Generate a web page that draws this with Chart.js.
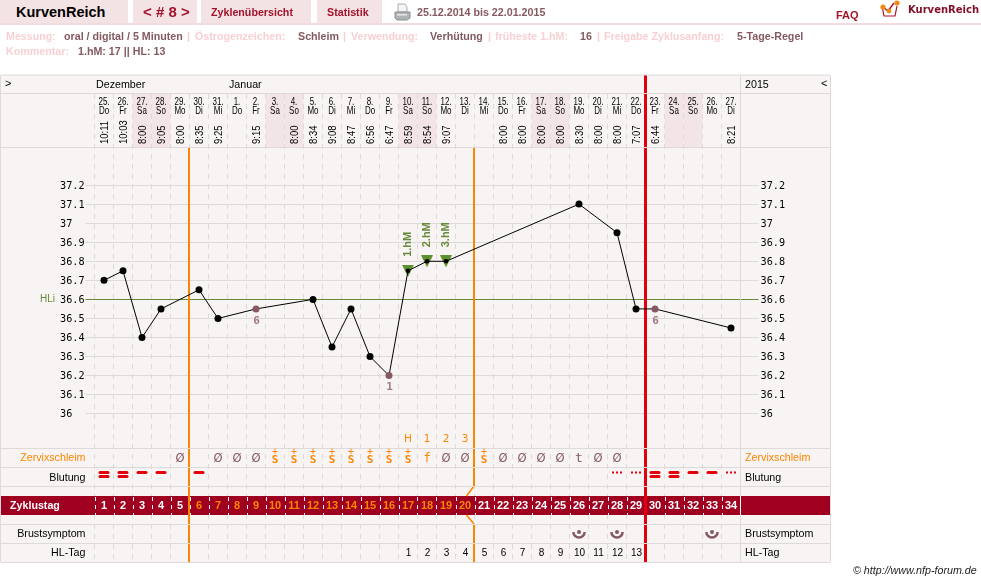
<!DOCTYPE html>
<html lang="de">
<head>
<meta charset="utf-8">
<title>KurvenReich</title>
<script src="https://cdn.jsdelivr.net/npm/chart.js@4"></script>
<style>
    html, body { margin: 0; padding: 0; background: #fff; }
    body { width: 981px; height: 582px; position: relative; overflow: hidden; font: 10.7px "Liberation Sans", Arial, sans-serif; }
    canvas { position: absolute; left: 0; top: 0; }
    .tab { position: absolute; top: 0; height: 23px; background: #f3e3e5; }
    .rule { position: absolute; left: 0; top: 23px; width: 981px; height: 2px; background: #f3dcdf; }
    .t { position: absolute; white-space: nowrap; font-weight: bold; line-height: 14px; }
    .nav { color: #a3132a; }
    .lab { color: #f8d0d4; }
    .val { color: #845a60; }
</style>
</head>
<body>
<canvas id="curve" width="981" height="582"></canvas>

<div class="tab" style="left:0;width:128px"></div>
<div class="tab" style="left:133px;width:64px"></div>
<div class="tab" style="left:201px;width:110px"></div>
<div class="tab" style="left:317px;width:65px"></div>
<div class="rule"></div>

<span class="t" style="left:16px;top:5px;font-size:14.5px;color:#000">KurvenReich</span>
<span class="t nav" style="left:143px;top:5px;font-size:15px">&lt; # 8 &gt;</span>
<span class="t nav" style="left:211px;top:5px">Zyklenübersicht</span>
<span class="t nav" style="left:327px;top:5px">Statistik</span>
<svg style="position:absolute;left:394px;top:3px" width="17" height="18" viewBox="0 0 17 18">
    <path d="M4 1h7l2 3v5H4z" fill="#f4f4f4" stroke="#a9adb0"/>
    <path d="M1 9h15v6l-3 2H3l-2-2z" fill="#aeb3b6" stroke="#8b9093"/>
    <rect x="3" y="11" width="10" height="1.5" fill="#e6e8e9"/>
</svg>
<span class="t val" style="left:417px;top:5px">25.12.2014 bis 22.01.2015</span>
<span class="t nav" style="left:836px;top:8px;font-size:11px">FAQ</span>
<svg style="position:absolute;left:880px;top:0" width="22" height="19" viewBox="0 0 22 19">
    <path d="M2 6l2 10h11l2-10" fill="#fff" stroke="#a3132a" stroke-width="1.2"/>
    <path d="M3 7l5 4 6-8" fill="none" stroke="#a3132a" stroke-width="1.4"/>
    <circle cx="3" cy="7" r="2.6" fill="#f08a16"/>
    <circle cx="9" cy="11" r="2.4" fill="#f08a16"/>
    <circle cx="17" cy="3" r="2.6" fill="#f08a16"/>
</svg>
<span class="t" style="left:908px;top:3px;font:bold 10px 'DejaVu Sans';line-height:14px;color:#84102a">KurvenReich</span>

<span class="t lab" style="left:6px;top:29px">Messung:</span>
<span class="t val" style="left:64px;top:29px">oral / digital / 5 Minuten</span>
<span class="t lab" style="left:187px;top:29px">|</span>
<span class="t lab" style="left:195px;top:29px">Östrogenzeichen:</span>
<span class="t val" style="left:298px;top:29px">Schleim</span>
<span class="t lab" style="left:343px;top:29px">|</span>
<span class="t lab" style="left:351px;top:29px">Verwendung:</span>
<span class="t val" style="left:430px;top:29px">Verhütung</span>
<span class="t lab" style="left:488px;top:29px">|</span>
<span class="t lab" style="left:495px;top:29px">früheste 1.hM:</span>
<span class="t val" style="left:580px;top:29px">16</span>
<span class="t lab" style="left:597px;top:29px">|</span>
<span class="t lab" style="left:604px;top:29px">Freigabe Zyklusanfang:</span>
<span class="t val" style="left:737px;top:29px">5-Tage-Regel</span>
<span class="t lab" style="left:6px;top:44px">Kommentar:</span>
<span class="t val" style="left:78px;top:44px">1.hM: 17 || HL: 13</span>

<span class="t" style="left:853px;top:563px;font-weight:normal;font-style:italic;color:#222">© http://www.nfp-forum.de</span>

<script>
'use strict'

const cycleDays = [1, 2, 3, 4, 5, 6, 7, 8, 9, 10, 11, 12, 13, 14, 15, 16, 17, 18, 19, 20, 21, 22, 23, 24, 25, 26, 27, 28, 29, 30, 31, 32, 33, 34]
const dates = ['25.', '26.', '27.', '28.', '29.', '30.', '31.', '1.', '2.', '3.', '4.', '5.', '6.', '7.', '8.', '9.', '10.', '11.', '12.', '13.', '14.', '15.', '16.', '17.', '18.', '19.', '20.', '21.', '22.', '23.', '24.', '25.', '26.', '27.']
const weekdays = ['Do', 'Fr', 'Sa', 'So', 'Mo', 'Di', 'Mi', 'Do', 'Fr', 'Sa', 'So', 'Mo', 'Di', 'Mi', 'Do', 'Fr', 'Sa', 'So', 'Mo', 'Di', 'Mi', 'Do', 'Fr', 'Sa', 'So', 'Mo', 'Di', 'Mi', 'Do', 'Fr', 'Sa', 'So', 'Mo', 'Di']
const times = ['10:11', '10:03', '8:00', '9:05', '8:00', '8:35', '9:25', '', '9:15', '', '8:00', '8:34', '9:08', '8:47', '6:56', '6:47', '8:59', '8:54', '9:07', '', '', '8:00', '8:00', '8:00', '8:00', '8:30', '8:00', '8:00', '7:07', '6:44', '', '', '', '8:21']
const temperatures = [36.7, 36.75, 36.4, 36.55, null, 36.65, 36.5, null, 36.55, null, null, 36.6, 36.35, 36.55, 36.3, 36.2, 36.75, 36.8, 36.8, null, null, null, null, null, null, 37.1, null, 36.95, 36.55, 36.55, null, null, null, 36.45]
// counted-over temperatures get a brown dot and their number underneath
const tempNotes = ['', '', '', '', '', '', '', '', '6', '', '', '', '', '', '', '1', '', '', '', '', '', '', '', '', '', '', '', '', '', '6', '', '', '', '']
const peakMarks = ['', '', '', '', '', '', '', '', '', '', '', '', '', '', '', '', '1.hM', '2.hM', '3.hM', '', '', '', '', '', '', '', '', '', '', '', '', '', '', '']
const peakCounts = ['', '', '', '', '', '', '', '', '', '', '', '', '', '', '', '', 'H', '1', '2', '3', '', '', '', '', '', '', '', '', '', '', '', '', '', '']
const mucus = ['', '', '', '', 'Ø', '', 'Ø', 'Ø', 'Ø', 'S+', 'S+', 'S+', 'S+', 'S+', 'S+', 'S+', 'S+', 'f', 'Ø', 'Ø', 'S+', 'Ø', 'Ø', 'Ø', 'Ø', 't', 'Ø', 'Ø', '', '', '', '', '', '']
const bleeding = [2, 2, 1, 1, 0, 1, 0, 0, 0, 0, 0, 0, 0, 0, 0, 0, 0, 0, 0, 0, 0, 0, 0, 0, 0, 0, 0, 3, 3, 2, 2, 1, 1, 3]
const breast = [0, 0, 0, 0, 0, 0, 0, 0, 0, 0, 0, 0, 0, 0, 0, 0, 0, 0, 0, 0, 0, 0, 0, 0, 0, 1, 0, 1, 0, 0, 0, 0, 1, 0]
const hlDays = ['', '', '', '', '', '', '', '', '', '', '', '', '', '', '', '', '1', '2', '3', '4', '5', '6', '7', '8', '9', '10', '11', '12', '13', '', '', '', '', '']
const yTicks = [36, 36.1, 36.2, 36.3, 36.4, 36.5, 36.6, 36.7, 36.8, 36.9, 37, 37.1, 37.2]
const coverLine = 36.6
const infertileUntil = 5
const fertileUntil = 20
const cycleEnd = 29

const SANS = '"Liberation Sans", Arial, sans-serif'
const MONO = '"DejaVu Sans Mono", monospace'
const DEJAVU = '"DejaVu Sans", sans-serif'
const PANEL = '#f9f4f4'
const LINE = '#dedada'
const ORANGE = '#fa8500'
const RED = '#e2000f'
const BAND = '#a0001f'
const BROWN = '#845a60'
const GREEN = '#668a3a'

const rowLines = [75, 93.5, 147.5, 448.5, 467.5, 486.5, 524.5, 543.5, 562.5]

const text = (ctx, str, x, y, font, color, align = 'center') => {
    ctx.font = font
    ctx.fillStyle = color
    ctx.textAlign = align
    ctx.textBaseline = 'middle'
    ctx.fillText(str, x, y)
}

// the day columns are narrow, so their text gets squeezed along its own direction
const squeezed = (ctx, str, x, y, font, color, squeeze, angle = 0) => {
    ctx.save()
    ctx.translate(x, y)
    ctx.rotate(angle)
    ctx.scale(squeeze, 1)
    text(ctx, str, 0, 0, font, color, angle ? 'left' : 'center')
    ctx.restore()
}

const upright = (ctx, str, x, y, font, color) => squeezed(ctx, str, x, y, font, color, 1, -Math.PI / 2)

// down pointing marker behind the peak day dots
const peakTriangle = () => {
    const c = document.createElement('canvas')
    c.width = 12
    c.height = 12
    const g = c.getContext('2d')
    g.fillStyle = '#5f9030'
    g.beginPath()
    g.moveTo(0, 0)
    g.lineTo(12, 0)
    g.lineTo(6, 12)
    g.closePath()
    g.fill()
    return c
}

const panelPlugin = {
    id: 'panel',
    beforeDraw(chart) {
        const {ctx, scales: {x}} = chart
        const step = x.getPixelForValue(1) - x.getPixelForValue(0)
        ctx.save()
        ctx.fillStyle = PANEL
        ctx.fillRect(1, 75, 829, 487.5)
        ctx.fillStyle = '#f3e5e7'
        weekdays.forEach((d, i) => {
            if (d === 'Sa' || d === 'So') {
                ctx.fillRect(x.getPixelForValue(i) - step / 2, 94, step, 53)
            }
        })
        ctx.restore()
    },
    beforeDatasetsDraw(chart) {
        const {ctx, scales: {x}} = chart
        const step = x.getPixelForValue(1) - x.getPixelForValue(0)
        const edge = i => x.getPixelForValue(i) - step / 2
        ctx.save()

        // Zyklustag band with its own white column ticks
        ctx.fillStyle = BAND
        ctx.fillRect(1, 496, 829, 19)
        ctx.strokeStyle = '#fff'
        ctx.setLineDash([4, 4])
        ctx.beginPath()
        cycleDays.forEach((d, i) => {
            ctx.moveTo(Math.round(edge(i)) + 0.5, 497)
            ctx.lineTo(Math.round(edge(i)) + 0.5, 515)
        })
        ctx.stroke()
        ctx.setLineDash([])

        ctx.strokeStyle = LINE
        ctx.beginPath()
        ctx.moveTo(740.5, 75)
        ctx.lineTo(740.5, 496)
        ctx.moveTo(740.5, 515)
        ctx.lineTo(740.5, 562)
        ctx.moveTo(0.5, 75)
        ctx.lineTo(0.5, 562)
        ctx.moveTo(830.5, 75)
        ctx.lineTo(830.5, 562)
        ctx.stroke()
        ctx.strokeStyle = '#fff'
        ctx.beginPath()
        ctx.moveTo(740.5, 496)
        ctx.lineTo(740.5, 515)
        ctx.stroke()

        // phase lines
        const first = Math.floor(edge(infertileUntil))
        const second = Math.floor(edge(fertileUntil))
        const third = edge(cycleEnd)
        ctx.strokeStyle = ORANGE
        ctx.lineWidth = 2
        ctx.beginPath()
        ctx.moveTo(first, 147)
        ctx.lineTo(first, 562)
        ctx.stroke()
        ctx.beginPath()
        ctx.moveTo(second, 147)
        ctx.lineTo(second, 486)
        ctx.moveTo(second, 524)
        ctx.lineTo(second, 562)
        ctx.stroke()
        ctx.lineWidth = 1.5
        ctx.beginPath()
        ctx.moveTo(second, 486)
        ctx.lineTo(second - step / 2 + 2, 496)
        ctx.moveTo(second - step / 2 + 2, 515)
        ctx.lineTo(second, 524)
        ctx.stroke()
        ctx.strokeStyle = RED
        ctx.lineWidth = 3
        ctx.beginPath()
        ctx.moveTo(third, 75)
        ctx.lineTo(third, 562)
        ctx.stroke()

        ctx.strokeStyle = LINE
        ctx.lineWidth = 1
        ctx.beginPath()
        rowLines.forEach(y => {
            ctx.moveTo(1, y)
            ctx.lineTo(830, y)
        })
        ctx.stroke()
        ctx.restore()
    },
    afterDatasetsDraw(chart) {
        const {ctx, scales: {x, y}} = chart
        ctx.save()

        // header
        text(ctx, '>', 5, 84, `11px ${SANS}`, '#000', 'left')
        text(ctx, 'Dezember', 96, 85, `10.7px ${SANS}`, '#000', 'left')
        text(ctx, 'Januar', 229, 85, `10.7px ${SANS}`, '#000', 'left')
        text(ctx, '2015', 745, 85, `10.7px ${SANS}`, '#000', 'left')
        text(ctx, '<', 821, 84, `11px ${SANS}`, '#000', 'left')
        text(ctx, 'HLi', 40, 299, `10px ${SANS}`, GREEN, 'left')

        const rowLabels = [['Zervixschleim', 458, ORANGE], ['Blutung', 478, '#000'], ['Brustsymptom', 534, '#000'], ['HL-Tag', 553, '#000']]
        rowLabels.forEach(([label, rowY, color]) => {
            text(ctx, label, 85.5, rowY, `10.7px ${SANS}`, color, 'right')
            text(ctx, label, 745, rowY, `10.7px ${SANS}`, color, 'left')
        })
        text(ctx, 'Zyklustag', 10, 506, `bold 10.7px ${SANS}`, '#fff', 'left')

        cycleDays.forEach((day, i) => {
            const px = x.getPixelForValue(i)

            squeezed(ctx, dates[i], px, 102, `10.5px ${SANS}`, '#000', 0.76)
            squeezed(ctx, weekdays[i], px, 111.5, `10.5px ${SANS}`, '#000', 0.76)
            if (times[i]) {
                squeezed(ctx, times[i], px + 1, 144, `11px ${SANS}`, '#000', 0.86, -Math.PI / 2)
            }

            if (temperatures[i] !== null && tempNotes[i]) {
                text(ctx, tempNotes[i], px + 0.5, y.getPixelForValue(temperatures[i]) + 12, `bold 11px ${MONO}`, '#a07a80')
            }
            if (peakMarks[i]) {
                upright(ctx, peakMarks[i], px, y.getPixelForValue(temperatures[i]) - 14, `bold 11px ${SANS}`, GREEN)
            }
            if (peakCounts[i]) {
                text(ctx, peakCounts[i], px, 439, `10.5px ${DEJAVU}`, ORANGE)
            }

            // mucus symbols
            const m = mucus[i]
            if (m === 'S+') {
                text(ctx, '+', px, 452, `10px ${MONO}`, ORANGE)
                text(ctx, 'S', px, 460.5, `bold 11px ${MONO}`, ORANGE)
            } else if (m === 'f') {
                text(ctx, m, px, 459, `12px ${MONO}`, ORANGE)
            } else if (m === 't') {
                text(ctx, m, px, 459, `13px ${MONO}`, BROWN)
            } else if (m) {
                text(ctx, m, px, 459.5, `11.5px ${DEJAVU}`, BROWN)
            }

            // bleeding strength: 1 bar, 2 bars, 3 spots
            ctx.fillStyle = RED
            if (bleeding[i] === 1 || bleeding[i] === 2) {
                const ys = bleeding[i] === 2 ? [471, 475] : [471]
                ys.forEach(top => {
                    ctx.beginPath()
                    ctx.roundRect(px - 5.5, top, 11, 3, 1.5)
                    ctx.fill()
                })
            } else if (bleeding[i] === 3) {
                [-4, 0, 4].forEach(off => ctx.fillRect(px + off - 1, 471.5, 2, 2))
            }

            text(ctx, String(day), px, 506, `bold 11px ${SANS}`, i >= infertileUntil && i < fertileUntil ? ORANGE : '#fff')

            if (breast[i]) {
                ctx.strokeStyle = BROWN
                ctx.fillStyle = BROWN
                ctx.lineWidth = 2.5
                ctx.beginPath()
                ctx.arc(px, 532, 5.6, 0, Math.PI)
                ctx.stroke()
                ctx.beginPath()
                ctx.arc(px, 532, 2, 0, 2 * Math.PI)
                ctx.fill()
                ctx.lineWidth = 1
            }

            if (hlDays[i]) {
                text(ctx, hlDays[i], px + 0.5, 553.5, `10px ${SANS}`, '#000')
            }
        })
        ctx.restore()
    }
}

const yScaleBase = {
    type: 'linear',
    min: 35.219,
    max: 37.678,
    afterBuildTicks: s => { s.ticks = yTicks.map(value => ({value})) },
    border: {display: false},
    ticks: {
        autoSkip: false,
        padding: 2,
        labelOffset: 1,
        color: '#000',
        font: {family: 'DejaVu Sans Mono', size: 10.2},
        callback: v => String(v)
    }
}

new Chart(document.getElementById('curve'), {
    type: 'line',
    data: {
        labels: cycleDays,
        datasets: [
            {
                label: 'Temperatur',
                data: temperatures,
                order: 1,
                spanGaps: true,
                borderColor: '#000',
                borderWidth: 1,
                tension: 0,
                pointRadius: peakMarks.map(p => p ? 2.3 : 3.5),
                pointBackgroundColor: tempNotes.map(n => n ? BROWN : '#000'),
                pointBorderWidth: 0
            },
            {
                label: 'Hochlage',
                data: temperatures.map((t, i) => peakMarks[i] ? t : null),
                order: 2,
                showLine: false,
                pointStyle: peakTriangle()
            }
        ]
    },
    options: {
        responsive: false,
        animation: false,
        events: [],
        layout: {padding: {left: 60, right: 0, top: 94, bottom: 19.5}},
        plugins: {legend: {display: false}, tooltip: {enabled: false}},
        scales: {
            x: {
                type: 'category',
                offset: true,
                afterFit: s => { s.height = 0 },
                border: {display: false, dash: [5, 5]},
                grid: {offset: true, color: LINE, drawTicks: false},
                ticks: {display: false}
            },
            y: {
                ...yScaleBase,
                position: 'left',
                afterFit: s => { s.width = 34.5 },
                grid: {
                    color: c => c.tick && c.tick.value === coverLine ? GREEN : LINE,
                    tickColor: c => c.tick && c.tick.value === coverLine ? GREEN : LINE,
                    tickLength: 9
                },
                ticks: {...yScaleBase.ticks, crossAlign: 'far'}
            },
            yRight: {
                ...yScaleBase,
                position: 'right',
                afterFit: s => { s.width = 240.5 },
                grid: {
                    drawOnChartArea: false,
                    tickColor: c => c.tick && c.tick.value === coverLine ? GREEN : LINE,
                    tickLength: 18
                }
            }
        }
    },
    plugins: [panelPlugin]
})
</script>
</body>
</html>
